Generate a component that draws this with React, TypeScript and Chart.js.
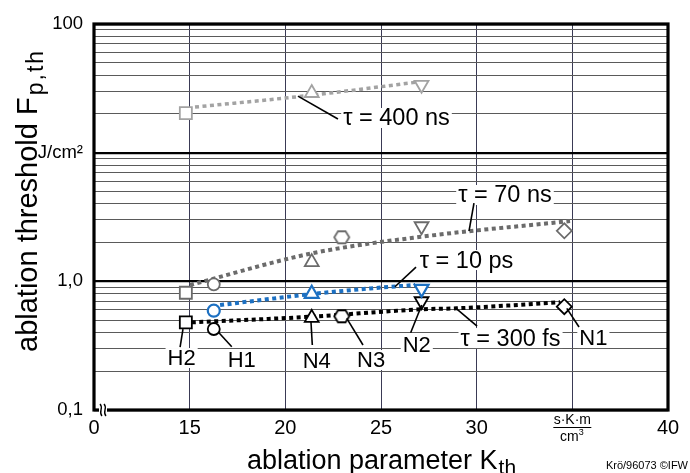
import React, { useEffect, useRef } from "react";
import { Chart, registerables } from "chart.js";
Chart.register(...registerables);

const FONT = "'Liberation Sans', Arial, sans-serif";

// samples (categories) and their ablation parameter K_th
const samples = ["H2", "H1", "N4", "N3", "N2", "N1"];
const sampleK = [14.8, 16.26, 21.38, 22.95, 27.12, 34.58];

// ablation thresholds per pulse duration (null = not measured)
const fs300 = [0.48, 0.426, 0.52, 0.535, 0.7, 0.635];
const ps10 = [null, 0.591, 0.8, null, 0.874, null];
const ns70 = [0.815, 0.948, 1.41, 2.2, 2.68, 2.47];
const ns400 = [20.3, null, 29.1, null, 33.7, null];

// fitted trend curves
const fs300FitX = [15.11, 21.34, 27.09, 28.95, 34.36];
const fs300FitY = [0.48, 0.531, 0.606, 0.617, 0.687];
const ps10FitX = [16.59, 21.39, 24.43, 26.78];
const ps10FitY = [0.654, 0.797, 0.88, 0.937];
const ns70FitX = [15.02, 21.39, 27.09, 34.88];
const ns70FitY = [0.937, 1.65, 2.22, 2.94];
const ns400FitX = [15.28, 21.39, 26.93];
const ns400FitY = [22.6, 28.0, 35.4];

// ticks
const xTickValues = [10, 15, 20, 25, 30, 35, 40];
const xTickLabels = ["0", "15", "20", "25", "30", "", "40"];
const yTickValues = [0.1, 1, 10, 100];
const yTickLabels = ["0,1", "1,0", "J/cm²", "100"];

// annotations (data coordinates)
const annTexts = ["τ = 400 ns", "τ = 70 ns", "τ = 10 ps", "τ = 300 fs", "N1", "N2", "N3", "N4", "H1", "H2"];
const annX = [25.81, 31.48, 29.47, 31.77, 36.1, 26.87, 24.48, 21.64, 17.72, 14.58];
const annY = [18.6, 4.69, 1.464, 0.3624, 0.3624, 0.32, 0.2445, 0.241, 0.2445, 0.2535];
const leadX1 = [20.66, 29.6, 25.73, 28.92, 34.71, 27.13, 23.21, 21.34, 16.53, 14.65];
const leadY1 = [27.5, 2.46, 0.908, 0.617, 0.617, 0.654, 0.516, 0.485, 0.3985, 0.426];
const leadX2 = [22.75, 29.86, 26.83, 30.02, 35.35, 26.55, 24.06, 21.41, 17.2, 14.5];
const leadY2 = [18.25, 4.06, 1.29, 0.449, 0.4415, 0.3985, 0.32, 0.32, 0.31, 0.3086];

const shapeOf: Record<string, string> = {
  H2: "rect", H1: "circle", N4: "triangle", N3: "hexagon", N2: "triDown", N1: "rectRot",
};
const radiusOf: Record<string, number> = {
  rect: 8.5, circle: 6, triangle: 8, triDown: 8, rectRot: 7.5, hexagon: 7,
};

function makeHex(color: string, lw: number) {
  const w = 15, h = 12;
  const c = document.createElement("canvas");
  c.width = w + 4;
  c.height = h + 4;
  const ctx = c.getContext("2d")!;
  const cx = c.width / 2, cy = c.height / 2, rx = w / 2, ry = h / 2;
  ctx.beginPath();
  ctx.moveTo(cx - rx, cy);
  ctx.lineTo(cx - rx / 2, cy - ry);
  ctx.lineTo(cx + rx / 2, cy - ry);
  ctx.lineTo(cx + rx, cy);
  ctx.lineTo(cx + rx / 2, cy + ry);
  ctx.lineTo(cx - rx / 2, cy + ry);
  ctx.closePath();
  ctx.fillStyle = "#fff";
  ctx.fill();
  ctx.strokeStyle = color;
  ctx.lineWidth = lw;
  ctx.stroke();
  return c;
}

function markerSet(label: string, ys: (number | null)[], color: string, lw: number) {
  const pts: any[] = [];
  const styles: any[] = [];
  const rots: number[] = [];
  const radii: number[] = [];
  const hex = makeHex(color, lw);
  ys.forEach((y, i) => {
    if (y == null) return;
    const s = shapeOf[samples[i]];
    pts.push({ x: sampleK[i], y });
    styles.push(s === "hexagon" ? hex : s === "triDown" ? "triangle" : s);
    rots.push(s === "triDown" ? 180 : 0);
    radii.push(radiusOf[s]);
  });
  return {
    label,
    data: pts,
    showLine: false,
    pointStyle: styles,
    pointRotation: rots,
    pointRadius: radii,
    pointBorderColor: color,
    pointBackgroundColor: "#fff",
    pointBorderWidth: lw,
    order: 0,
  };
}

function fitSet(label: string, xs: number[], ys: number[], color: string, lw: number) {
  return {
    label,
    data: xs.map((x, i) => ({ x, y: ys[i] })),
    showLine: true,
    borderColor: color,
    borderWidth: lw,
    borderDash: [4, 3.5],
    borderCapStyle: "butt",
    pointRadius: 0,
    tension: 0.35,
    cubicInterpolationMode: "monotone",
    order: 1,
  };
}

export default function App() {
  const ref = useRef<HTMLCanvasElement>(null);
  useEffect(() => {
    document.body.style.margin = "0";
    const canvas = ref.current!;
    const grey400 = "#a3a3a3";
    const grey70 = "#6b6b6b";
    const blue = "#1c70c2";
    const black = "#000";

    const yGrid: number[] = [];
    [0.1, 1, 10].forEach((d) => {
      for (let k = 1; k <= 9; k++) yGrid.push(+(d * k).toPrecision(6));
    });
    yGrid.push(100);
    const isMajor = (v: number) => Math.abs(Math.log10(v) - Math.round(Math.log10(v))) < 1e-9;

    const plugin = {
      id: "annotations",
      afterDatasetsDraw(chart: any) {
        const ctx = chart.ctx as CanvasRenderingContext2D;
        const xs = chart.scales.x, ys = chart.scales.y;
        ctx.save();
        ctx.textAlign = "center";
        ctx.textBaseline = "middle";
        annTexts.forEach((t, i) => {
          ctx.font = t.startsWith("τ") ? `23.5px ${FONT}` : `22px ${FONT}`;
          const px = xs.getPixelForValue(annX[i]);
          const py = ys.getPixelForValue(annY[i]);
          const w = ctx.measureText(t).width;
          ctx.fillStyle = "#fff";
          ctx.fillRect(px - w / 2 - 2, py - 10, w + 4, 20);
          ctx.fillStyle = "#000";
          ctx.fillText(t, px, py + 1);
          ctx.beginPath();
          ctx.moveTo(xs.getPixelForValue(leadX1[i]), ys.getPixelForValue(leadY1[i]));
          ctx.lineTo(xs.getPixelForValue(leadX2[i]), ys.getPixelForValue(leadY2[i]));
          ctx.strokeStyle = "#000";
          ctx.lineWidth = 1.6;
          ctx.stroke();
        });
        ctx.restore();
      },
      afterDraw(chart: any) {
        const ctx = chart.ctx as CanvasRenderingContext2D;
        const a = chart.chartArea;
        const xs = chart.scales.x;
        ctx.save();
        // frame
        ctx.strokeStyle = "#000";
        ctx.lineWidth = 3.2;
        ctx.strokeRect(a.left, a.top, a.right - a.left, a.bottom - a.top);
        // axis break
        const bx = a.left + 9;
        ctx.fillStyle = "#fff";
        ctx.fillRect(bx - 4, a.bottom - 3, 8, 6);
        ctx.lineWidth = 1.4;
        [-2, 2].forEach((d) => {
          ctx.beginPath();
          ctx.moveTo(bx + d - 1, a.bottom - 6);
          ctx.bezierCurveTo(bx + d + 3, a.bottom - 2, bx + d - 3, a.bottom + 2, bx + d + 1, a.bottom + 6);
          ctx.stroke();
        });
        // unit fraction at 35
        const ux = xs.getPixelForValue(35);
        ctx.fillStyle = "#000";
        ctx.textAlign = "center";
        ctx.textBaseline = "alphabetic";
        ctx.font = `14px ${FONT}`;
        ctx.fillText("s·K·m", ux, a.bottom + 14);
        ctx.beginPath();
        ctx.moveTo(ux - 19, a.bottom + 17.5);
        ctx.lineTo(ux + 19, a.bottom + 17.5);
        ctx.lineWidth = 1;
        ctx.stroke();
        ctx.fillText("cm", ux - 3, a.bottom + 31);
        ctx.font = `9px ${FONT}`;
        ctx.fillText("3", ux + 9, a.bottom + 25);
        // x title
        ctx.textAlign = "left";
        ctx.font = `27px ${FONT}`;
        const xt = "ablation parameter K";
        const xw = ctx.measureText(xt).width;
        ctx.font = `21px ${FONT}`;
        const sw = ctx.measureText("th").width;
        const x0 = (a.left + a.right) / 2 - (xw + sw) / 2;
        ctx.font = `27px ${FONT}`;
        ctx.fillText(xt, x0, 469);
        ctx.font = `21px ${FONT}`;
        ctx.fillText("th", x0 + xw + 1, 474);
        // y title
        ctx.save();
        ctx.translate(37, 352);
        ctx.rotate(-Math.PI / 2);
        ctx.font = `29px ${FONT}`;
        const yt = "ablation threshold F";
        ctx.fillText(yt, 0, 0);
        const yw = ctx.measureText(yt).width;
        ctx.font = `23px ${FONT}`;
        (ctx as any).letterSpacing = "2px";
        ctx.fillText("p,th", yw + 2, 6);
        (ctx as any).letterSpacing = "0px";
        ctx.restore();
        // credit
        ctx.textAlign = "right";
        ctx.font = `11px ${FONT}`;
        ctx.fillText("Krö/96073 ©IFW", 688, 469);
        ctx.restore();
      },
    };

    const chart = new Chart(canvas, {
      type: "scatter",
      data: {
        datasets: [
          markerSet("400 ns", ns400, grey400, 1.8),
          markerSet("70 ns", ns70, grey70, 1.8),
          markerSet("10 ps", ps10, blue, 2.2),
          markerSet("300 fs", fs300, black, 1.8),
          fitSet("400 ns fit", ns400FitX, ns400FitY, grey400, 3.5),
          fitSet("70 ns fit", ns70FitX, ns70FitY, grey70, 4),
          fitSet("10 ps fit", ps10FitX, ps10FitY, blue, 4),
          fitSet("300 fs fit", fs300FitX, fs300FitY, black, 4),
        ] as any,
      },
      options: {
        responsive: false,
        animation: false,
        layout: { padding: { left: 0, right: 22, top: 24, bottom: 0 } },
        plugins: { legend: { display: false }, tooltip: { enabled: false } },
        scales: {
          x: {
            type: "linear",
            min: 10,
            max: 40,
            afterBuildTicks: (s: any) => {
              s.ticks = xTickValues.map((v) => ({ value: v }));
            },
            afterFit: (s: any) => {
              s.height = 63;
            },
            ticks: {
              autoSkip: false,
              maxRotation: 0,
              padding: 6,
              color: "#000",
              font: { size: 20, family: FONT },
              callback: (v: any) => {
                const i = xTickValues.indexOf(Number(v));
                return i >= 0 ? xTickLabels[i] : "";
              },
            },
            grid: { drawTicks: false, color: "#3a3a55", lineWidth: 1 },
            border: { display: false },
          },
          y: {
            type: "logarithmic",
            min: 0.1,
            max: 100,
            afterBuildTicks: (s: any) => {
              s.ticks = yGrid.map((v) => ({ value: v }));
            },
            afterFit: (s: any) => {
              s.width = 94;
            },
            ticks: {
              autoSkip: false,
              padding: 11,
              color: "#000",
              font: { size: 18.5, family: FONT },
              callback: (v: any) => {
                const n = Number(v);
                const i = yTickValues.findIndex((t) => Math.abs(t - n) < 1e-9);
                return i >= 0 ? yTickLabels[i] : "";
              },
            },
            grid: {
              drawTicks: false,
              color: (c: any) => (c.tick && isMajor(c.tick.value) ? "#000" : "#5a5a5a"),
              lineWidth: (c: any) => (c.tick && isMajor(c.tick.value) ? 2.2 : 1),
            },
            border: { display: false },
          },
        },
      },
      plugins: [plugin],
    } as any);
    return () => chart.destroy();
  }, []);
  return (
    <div style={{ width: 690, height: 473, background: "#fff" }}>
      <canvas ref={ref} width={690} height={473} />
    </div>
  );
}
